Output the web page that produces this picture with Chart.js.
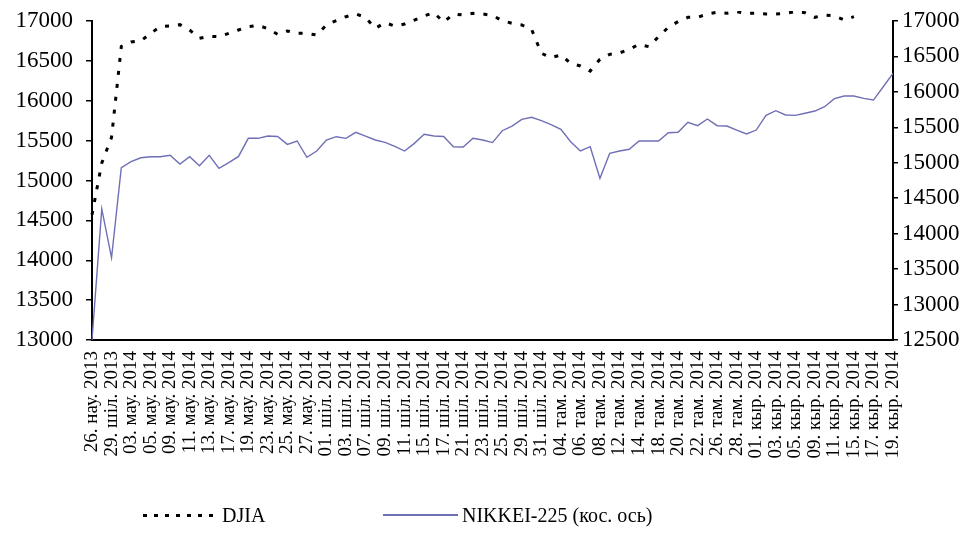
<!DOCTYPE html>
<html>
<head>
<meta charset="utf-8">
<title>DJIA / NIKKEI-225</title>
<script src="https://cdn.jsdelivr.net/npm/chart.js@4.4.1/dist/chart.umd.min.js"></script>
<style>
  body { margin: 0; background: #fff; }
  #wrap { position: relative; width: 976px; height: 538px; }
  .lg { position: absolute; top: 503px; height: 24px; display: flex; align-items: center;
        font: 20px 'Liberation Serif', 'Times New Roman', serif; color: #000; white-space: nowrap; }
  .lg span { display: inline-block; margin-right: 4px; }
</style>
</head>
<body>
<div id="wrap">
  <canvas id="chart" width="976" height="538"></canvas>
</div>
<script>
// даты (подписи показаны через одну)
const labels = [
  '26. нау. 2013', '', '29. шіл. 2013', '02. мау. 2014',
  '03. мау. 2014', '04. мау. 2014', '05. мау. 2014', '06. мау. 2014',
  '09. мау. 2014', '10. мау. 2014', '11. мау. 2014', '12. мау. 2014',
  '13. мау. 2014', '16. мау. 2014', '17. мау. 2014', '18. мау. 2014',
  '19. мау. 2014', '20. мау. 2014', '23. мау. 2014', '24. мау. 2014',
  '25. мау. 2014', '26. мау. 2014', '27. мау. 2014', '30. мау. 2014',
  '01. шіл. 2014', '02. шіл. 2014', '03. шіл. 2014', '04. шіл. 2014',
  '07. шіл. 2014', '08. шіл. 2014', '09. шіл. 2014', '10. шіл. 2014',
  '11. шіл. 2014', '14. шіл. 2014', '15. шіл. 2014', '16. шіл. 2014',
  '17. шіл. 2014', '18. шіл. 2014', '21. шіл. 2014', '22. шіл. 2014',
  '23. шіл. 2014', '24. шіл. 2014', '25. шіл. 2014', '28. шіл. 2014',
  '29. шіл. 2014', '30. шіл. 2014', '31. шіл. 2014', '01. там. 2014',
  '04. там. 2014', '05. там. 2014', '06. там. 2014', '07. там. 2014',
  '08. там. 2014', '11. там. 2014', '12. там. 2014', '13. там. 2014',
  '14. там. 2014', '15. там. 2014', '18. там. 2014', '19. там. 2014',
  '20. там. 2014', '21. там. 2014', '22. там. 2014', '25. там. 2014',
  '26. там. 2014', '27. там. 2014', '28. там. 2014', '29. там. 2014',
  '01. кыр. 2014', '02. кыр. 2014', '03. кыр. 2014', '04. кыр. 2014',
  '05. кыр. 2014', '08. кыр. 2014', '09. кыр. 2014', '10. кыр. 2014',
  '11. кыр. 2014', '12. кыр. 2014', '15. кыр. 2014', '16. кыр. 2014',
  '17. кыр. 2014', '18. кыр. 2014', '19. кыр. 2014'
];

// DJIA, левая ось (выше ~17130 линия уходит за край)
const djia = [
  14570, 15220, 15540, 16680, 16737, 16750, 16845, 16929, 16937, 16954,
  16887, 16783, 16808, 16803, 16845, 16887, 16929, 16946, 16904, 16833,
  16875, 16845, 16845, 16824, 16950, 17004, 17054, 17088, 17046, 16908,
  16979, 16937, 16962, 17012, 17063, 17104, 16987, 17088, 17075, 17096,
  17088, 17070, 17004, 16971, 16950, 16896, 16595, 16540, 16574, 16470,
  16436, 16373, 16520, 16582, 16600, 16645, 16708, 16678, 16803, 16921,
  16992, 17046, 17046, 17088, 17109, 17096, 17117, 17096, 17096, 17088,
  17088, 17096, 17117, 17104, 17046, 17075, 17063, 17012, 17054,
  null, null, null, null
];

// NIKKEI-225, правая (косвенная) ось
const nikkei = [
  12500, 14350, 13660, 14930, 15015, 15071, 15085, 15085, 15105, 14982,
  15085, 14958, 15105, 14922, 15001, 15090, 15345, 15345, 15377, 15370,
  15260, 15307, 15077, 15166, 15321, 15368, 15345, 15430, 15377, 15321,
  15288, 15232, 15166, 15274, 15401, 15377, 15370, 15227, 15222, 15345,
  15321, 15285, 15452, 15518, 15613, 15641, 15594, 15537, 15472, 15297,
  15166, 15227, 14780, 15133, 15166, 15190, 15307, 15307, 15307, 15424,
  15430, 15572, 15523, 15617, 15523, 15518, 15462, 15406, 15462, 15669,
  15735, 15674, 15669, 15698, 15730, 15791, 15904, 15942, 15942, 15909,
  15885, 16073, 16262
];

const leftAxis = [13000, 17000, 500];
const rightAxis = [12500, 17000, 500];

const serif = "'Liberation Serif', 'Times New Roman', serif";
const plain = function (v) { return String(v); };

const datasets = [
  {
    label: 'DJIA',
    data: djia,
    yAxisID: 'y',
    borderColor: '#000',
    borderWidth: 3,
    borderDash: [4, 9],
    pointRadius: 0,
    tension: 0,
    clip: { left: 2, top: 10, right: 2, bottom: 2 }
  },
  {
    label: 'NIKKEI-225 (кос. ось)',
    data: nikkei,
    yAxisID: 'y1',
    borderColor: '#6f6fb6',
    borderWidth: 1.4,
    pointRadius: 0,
    tension: 0
  }
];

new Chart(document.getElementById('chart'), {
  type: 'line',
  data: { labels: labels, datasets: datasets },
  options: {
    responsive: false,
    animation: false,
    layout: { padding: { top: 21 } },
    plugins: {
      legend: { display: false },
      tooltip: { enabled: false }
    },
    scales: {
      x: {
        grid: { display: true, drawOnChartArea: false, drawTicks: false },
        border: { color: '#000', width: 2 },
        ticks: {
          autoSkip: false,
          minRotation: 90,
          maxRotation: 90,
          padding: 11,
          color: '#000',
          font: { family: serif, size: 19 },
          callback: function (v, i) { return i % 2 === 0 ? this.getLabelForValue(v) : null; }
        },
        afterFit: function (s) { s.height = 198; }
      },
      y: {
        position: 'left',
        min: leftAxis[0],
        max: leftAxis[1],
        ticks: { stepSize: leftAxis[2], padding: 13, color: '#000', font: { family: serif, size: 23 }, callback: plain },
        grid: { drawOnChartArea: false, tickLength: 6, color: '#000', lineWidth: 1.5 },
        border: { color: '#000', width: 2 },
        afterFit: function (s) { s.width = 92; s.paddingTop = 0; s.paddingBottom = 0; }
      },
      y1: {
        position: 'right',
        min: rightAxis[0],
        max: rightAxis[1],
        ticks: { stepSize: rightAxis[2], padding: 4, color: '#000', font: { family: serif, size: 23 }, callback: plain },
        grid: { drawOnChartArea: false, tickLength: 5, color: '#000', lineWidth: 1.5 },
        border: { color: '#000', width: 2 },
        afterFit: function (s) { s.width = 83; s.paddingTop = 0; s.paddingBottom = 0; }
      }
    }
  }
});

// легенда под графиком
const wrap = document.getElementById('wrap');
const legendX = [143, 383];
datasets.forEach(function (ds, i) {
  const item = document.createElement('div');
  item.className = 'lg';
  item.style.left = legendX[i] + 'px';
  const sample = document.createElement('span');
  sample.style.width = '75px';
  if (ds.borderDash) {
    sample.style.height = '3px';
    sample.style.background = 'repeating-linear-gradient(90deg, ' + ds.borderColor + ' 0 4px, transparent 4px 11px)';
  } else {
    sample.style.height = '2px';
    sample.style.background = ds.borderColor;
  }
  item.appendChild(sample);
  item.appendChild(document.createTextNode(ds.label));
  wrap.appendChild(item);
});
</script>
</body>
</html>
